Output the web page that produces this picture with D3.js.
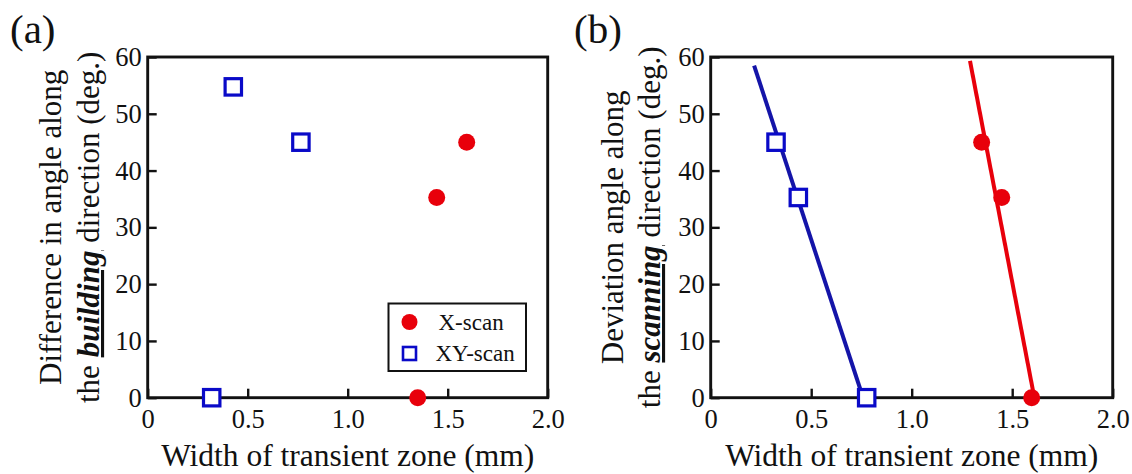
<!DOCTYPE html>
<html lang="en">
<head>
    <meta charset="UTF-8">
    <title>Transient zone width vs angle</title>
    <script src="https://d3js.org/d3.v7.min.js"></script>
    <style>
        body { margin: 0; background: #fff; }
    </style>
</head>
<body>
    <script>
        const width = 1132;
        const height = 474;
        const FONT = '"Liberation Serif"';

        // panel (a): difference in angle along the building direction
        const xScanA = [{w: 1.35, a: 0}, {w: 1.445, a: 35.26}, {w: 1.595, a: 45}];
        const xyScanA = [{w: 0.32, a: 0}, {w: 0.428, a: 54.74}, {w: 0.766, a: 45}];

        // panel (b): deviation angle along the scanning direction
        const xScanB = [{w: 1.597, a: 0}, {w: 1.448, a: 35.26}, {w: 1.348, a: 45}];
        const xyScanB = [{w: 0.776, a: 0}, {w: 0.436, a: 35.26}, {w: 0.325, a: 45}];

        // straight guide lines in panel (b)
        const xScanLineB = [{w: 1.29, a: 59.3}, {w: 1.61, a: 0}];
        const xyScanLineB = [{w: 0.216, a: 58.5}, {w: 0.758, a: 0}];

        const xTicks = [0, 0.5, 1.0, 1.5, 2.0];
        const xTickLabels = ["0", "0.5", "1.0", "1.5", "2.0"];
        const xMinor = [0.25, 0.75, 1.25, 1.75];
        const yTicks = [0, 10, 20, 30, 40, 50, 60];
        const yMinor = [5, 15, 25, 35, 45, 55];

        const legendLabels = ["X-scan", "XY-scan"];

        const red = "#e8000b";
        const blue = "#0a0ac8";
        const navy = "#1414a8";

        const svg = d3.select("body").append("svg")
            .attr("width", width)
            .attr("height", height)
            .style("font-family", FONT);

        function label(sel, size) {
            return sel.style("font-family", FONT).style("font-size", size + "px").attr("fill", "#111");
        }

        function drawPanel(opt) {
            const x = d3.scaleLinear().domain([0, 2]).range([opt.left, opt.right]);
            const y = d3.scaleLinear().domain([0, 60]).range([397.7, 57]);
            const g = svg.append("g");

            // minor + major ticks, pointing inward
            const xAxis = g.append("g").attr("transform", `translate(0,${y(0)})`);
            xAxis.call(d3.axisBottom(x).tickValues(xMinor).tickFormat("").tickSize(-6));
            xAxis.call(d3.axisBottom(x).tickValues(xTicks)
                .tickFormat((d, i) => xTickLabels[i]).tickSize(-9).tickPadding(11));

            const yAxis = g.append("g").attr("transform", `translate(${x(0)},0)`);
            yAxis.call(d3.axisLeft(y).tickValues(yMinor).tickFormat("").tickSize(-6));
            yAxis.call(d3.axisLeft(y).tickValues(yTicks).tickSize(-9).tickPadding(6));

            g.selectAll(".domain").remove();
            g.selectAll(".tick line").attr("stroke", "#111").attr("stroke-width", 2.4);
            label(g.selectAll(".tick text"), 26.5);

            // frame
            g.append("rect")
                .attr("x", x(0)).attr("y", y(60))
                .attr("width", x(2) - x(0)).attr("height", y(0) - y(60))
                .attr("fill", "none").attr("stroke", "#111").attr("stroke-width", 2.9);

            // axis titles
            label(g.append("text"), 31.5)
                .attr("x", (x(0) + x(2)) / 2).attr("y", 466)
                .attr("text-anchor", "middle")
                .text("Width of transient zone (mm)");

            const cy = (y(0) + y(60)) / 2;
            label(g.append("text"), 31)
                .attr("transform", `translate(${opt.t1},${cy}) rotate(-90)`)
                .attr("text-anchor", "middle")
                .text(opt.title1);
            const t2 = label(g.append("text"), 31)
                .attr("transform", `translate(${opt.t2},${cy}) rotate(-90)`)
                .attr("text-anchor", "middle");
            t2.append("tspan").text("the ");
            t2.append("tspan")
                .attr("font-weight", "bold").attr("font-style", "italic")
                .attr("text-decoration", "underline")
                .text(opt.keyword);
            t2.append("tspan").text(" direction (deg.)");

            // panel letter
            label(g.append("text"), 41)
                .attr("x", opt.letterX).attr("y", 43)
                .text(opt.letter);

            // fit lines
            const line = d3.line().x(d => x(d.w)).y(d => y(d.a));
            if (opt.lines) {
                opt.lines.forEach(l => {
                    g.append("path").datum(l.data)
                        .attr("d", line)
                        .attr("fill", "none")
                        .attr("stroke", l.color)
                        .attr("stroke-width", 4);
                });
            }

            // markers
            g.selectAll(".xy").data(opt.xy).join("rect")
                .attr("x", d => x(d.w) - 8.2).attr("y", d => y(d.a) - 8.2)
                .attr("width", 16.4).attr("height", 16.4)
                .attr("fill", "#fff").attr("stroke", blue).attr("stroke-width", 3.2);

            g.selectAll(".xs").data(opt.xs).join("circle")
                .attr("cx", d => x(d.w)).attr("cy", d => y(d.a))
                .attr("r", 8.5)
                .attr("fill", red);

            return {g, x, y};
        }

        const pa = drawPanel({
            left: 147.7, right: 547.7,
            t1: 61, t2: 99,
            title1: "Difference in angle along",
            keyword: "building",
            letter: "(a)", letterX: 10,
            xs: xScanA, xy: xyScanA
        });

        drawPanel({
            left: 710.7, right: 1112.7,
            t1: 623, t2: 660,
            title1: "Deviation angle along",
            keyword: "scanning",
            letter: "(b)", letterX: 574,
            xs: xScanB, xy: xyScanB,
            lines: [
                {data: xyScanLineB, color: navy},
                {data: xScanLineB, color: red}
            ]
        });

        // legend in panel (a)
        const leg = pa.g.append("g").attr("transform", "translate(388.5,303.5)");
        leg.append("rect")
            .attr("width", 137.5).attr("height", 67.5)
            .attr("fill", "#fff").attr("stroke", "#111").attr("stroke-width", 2);
        leg.append("circle").attr("cx", 21).attr("cy", 18.5).attr("r", 8).attr("fill", red);
        leg.append("rect").attr("x", 14.5).attr("y", 43.5).attr("width", 13).attr("height", 13)
            .attr("fill", "#fff").attr("stroke", blue).attr("stroke-width", 2.6);
        label(leg.selectAll(".lt").data(legendLabels).join("text"), 23)
            .attr("x", (d, i) => i === 0 ? 50 : 47)
            .attr("y", (d, i) => i === 0 ? 26.5 : 57)
            .text(d => d);
    </script>
</body>
</html>
